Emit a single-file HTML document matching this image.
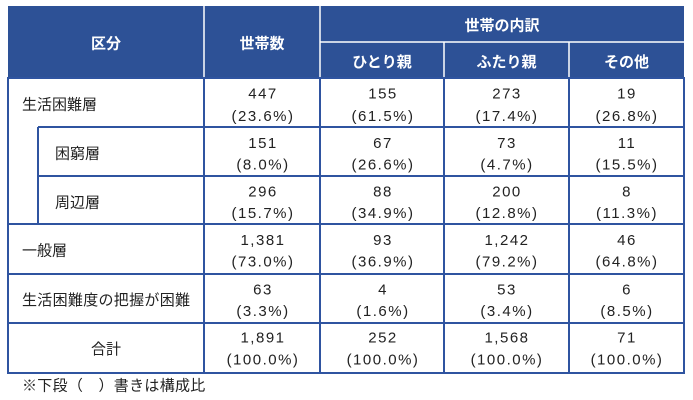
<!DOCTYPE html>
<html><head><meta charset="utf-8"><style>
html,body{margin:0;padding:0;background:#fff;}
svg{display:block;}
text{font-family:"Liberation Sans","Noto Sans CJK JP",sans-serif;font-size:15px;fill:#222;}
.h{fill:#fff;font-weight:bold;}
.n{letter-spacing:1.5px;}
</style></head><body>
<svg width="693" height="400" viewBox="0 0 693 400" xmlns="http://www.w3.org/2000/svg">
<rect x="0" y="0" width="693" height="400" fill="#fff"/>
<rect x="8" y="6" width="676" height="72" fill="#2d5196"/>
<g stroke="#fff" stroke-width="1.5">
<line x1="204" y1="6" x2="204" y2="78"/>
<line x1="320" y1="6" x2="320" y2="78"/>
<line x1="320" y1="42" x2="684" y2="42"/>
<line x1="444" y1="42" x2="444" y2="78"/>
<line x1="569" y1="42" x2="569" y2="78"/>
</g>
<g stroke="#2f54a0" stroke-width="2" fill="none">
<rect x="8" y="78" width="676" height="295"/>
<line x1="204" y1="78" x2="204" y2="373"/>
<line x1="320" y1="78" x2="320" y2="373"/>
<line x1="444" y1="78" x2="444" y2="373"/>
<line x1="569" y1="78" x2="569" y2="373"/>
<line x1="38" y1="127" x2="684" y2="127"/>
<line x1="38" y1="176" x2="684" y2="176"/>
<line x1="38" y1="127" x2="38" y2="224"/>
<line x1="8" y1="224" x2="684" y2="224"/>
<line x1="8" y1="274" x2="684" y2="274"/>
<line x1="8" y1="323" x2="684" y2="323"/>
</g>
<g text-anchor="middle">
<text class="h" x="106" y="48.5">区分</text>
<text class="h" x="262" y="48.5">世帯数</text>
<text class="h" x="502" y="30.5">世帯の内訳</text>
<text class="h" x="382" y="67">ひとり親</text>
<text class="h" x="506.5" y="67">ふたり親</text>
<text class="h" x="626.5" y="67">その他</text>
</g>
<g>
<text x="22" y="109.5">生活困難層</text>
<text x="55" y="158.5">困窮層</text>
<text x="55" y="207.5">周辺層</text>
<text x="22" y="255.5">一般層</text>
<text x="22" y="305" letter-spacing="0.3">生活困難度の把握が困難</text>
<text x="106" y="354" text-anchor="middle">合計</text>
<text x="22" y="390.5" letter-spacing="0.3">※下段（　）書きは構成比</text>
</g>
<g text-anchor="middle" class="n">
<text class="n" x="263" y="98.5">447</text><text class="n" x="263" y="121">(23.6%)</text>
<text class="n" x="383" y="98.5">155</text><text class="n" x="383" y="121">(61.5%)</text>
<text class="n" x="507" y="98.5">273</text><text class="n" x="507" y="121">(17.4%)</text>
<text class="n" x="627" y="98.5">19</text><text class="n" x="627" y="121">(26.8%)</text>

<text class="n" x="263" y="148">151</text><text class="n" x="263" y="169.5">(8.0%)</text>
<text class="n" x="383" y="148">67</text><text class="n" x="383" y="169.5">(26.6%)</text>
<text class="n" x="507" y="148">73</text><text class="n" x="507" y="169.5">(4.7%)</text>
<text class="n" x="627" y="148">11</text><text class="n" x="627" y="169.5">(15.5%)</text>

<text class="n" x="263" y="196.5">296</text><text class="n" x="263" y="218">(15.7%)</text>
<text class="n" x="383" y="196.5">88</text><text class="n" x="383" y="218">(34.9%)</text>
<text class="n" x="507" y="196.5">200</text><text class="n" x="507" y="218">(12.8%)</text>
<text class="n" x="627" y="196.5">8</text><text class="n" x="627" y="218">(11.3%)</text>

<text class="n" x="263" y="245">1,381</text><text class="n" x="263" y="266.5">(73.0%)</text>
<text class="n" x="383" y="245">93</text><text class="n" x="383" y="266.5">(36.9%)</text>
<text class="n" x="507" y="245">1,242</text><text class="n" x="507" y="266.5">(79.2%)</text>
<text class="n" x="627" y="245">46</text><text class="n" x="627" y="266.5">(64.8%)</text>

<text class="n" x="263" y="294.5">63</text><text class="n" x="263" y="316">(3.3%)</text>
<text class="n" x="383" y="294.5">4</text><text class="n" x="383" y="316">(1.6%)</text>
<text class="n" x="507" y="294.5">53</text><text class="n" x="507" y="316">(3.4%)</text>
<text class="n" x="627" y="294.5">6</text><text class="n" x="627" y="316">(8.5%)</text>

<text class="n" x="263" y="342.5">1,891</text><text class="n" x="263" y="364.5">(100.0%)</text>
<text class="n" x="383" y="342.5">252</text><text class="n" x="383" y="364.5">(100.0%)</text>
<text class="n" x="507" y="342.5">1,568</text><text class="n" x="507" y="364.5">(100.0%)</text>
<text class="n" x="627" y="342.5">71</text><text class="n" x="627" y="364.5">(100.0%)</text>
</g>
</svg>
</body></html>
